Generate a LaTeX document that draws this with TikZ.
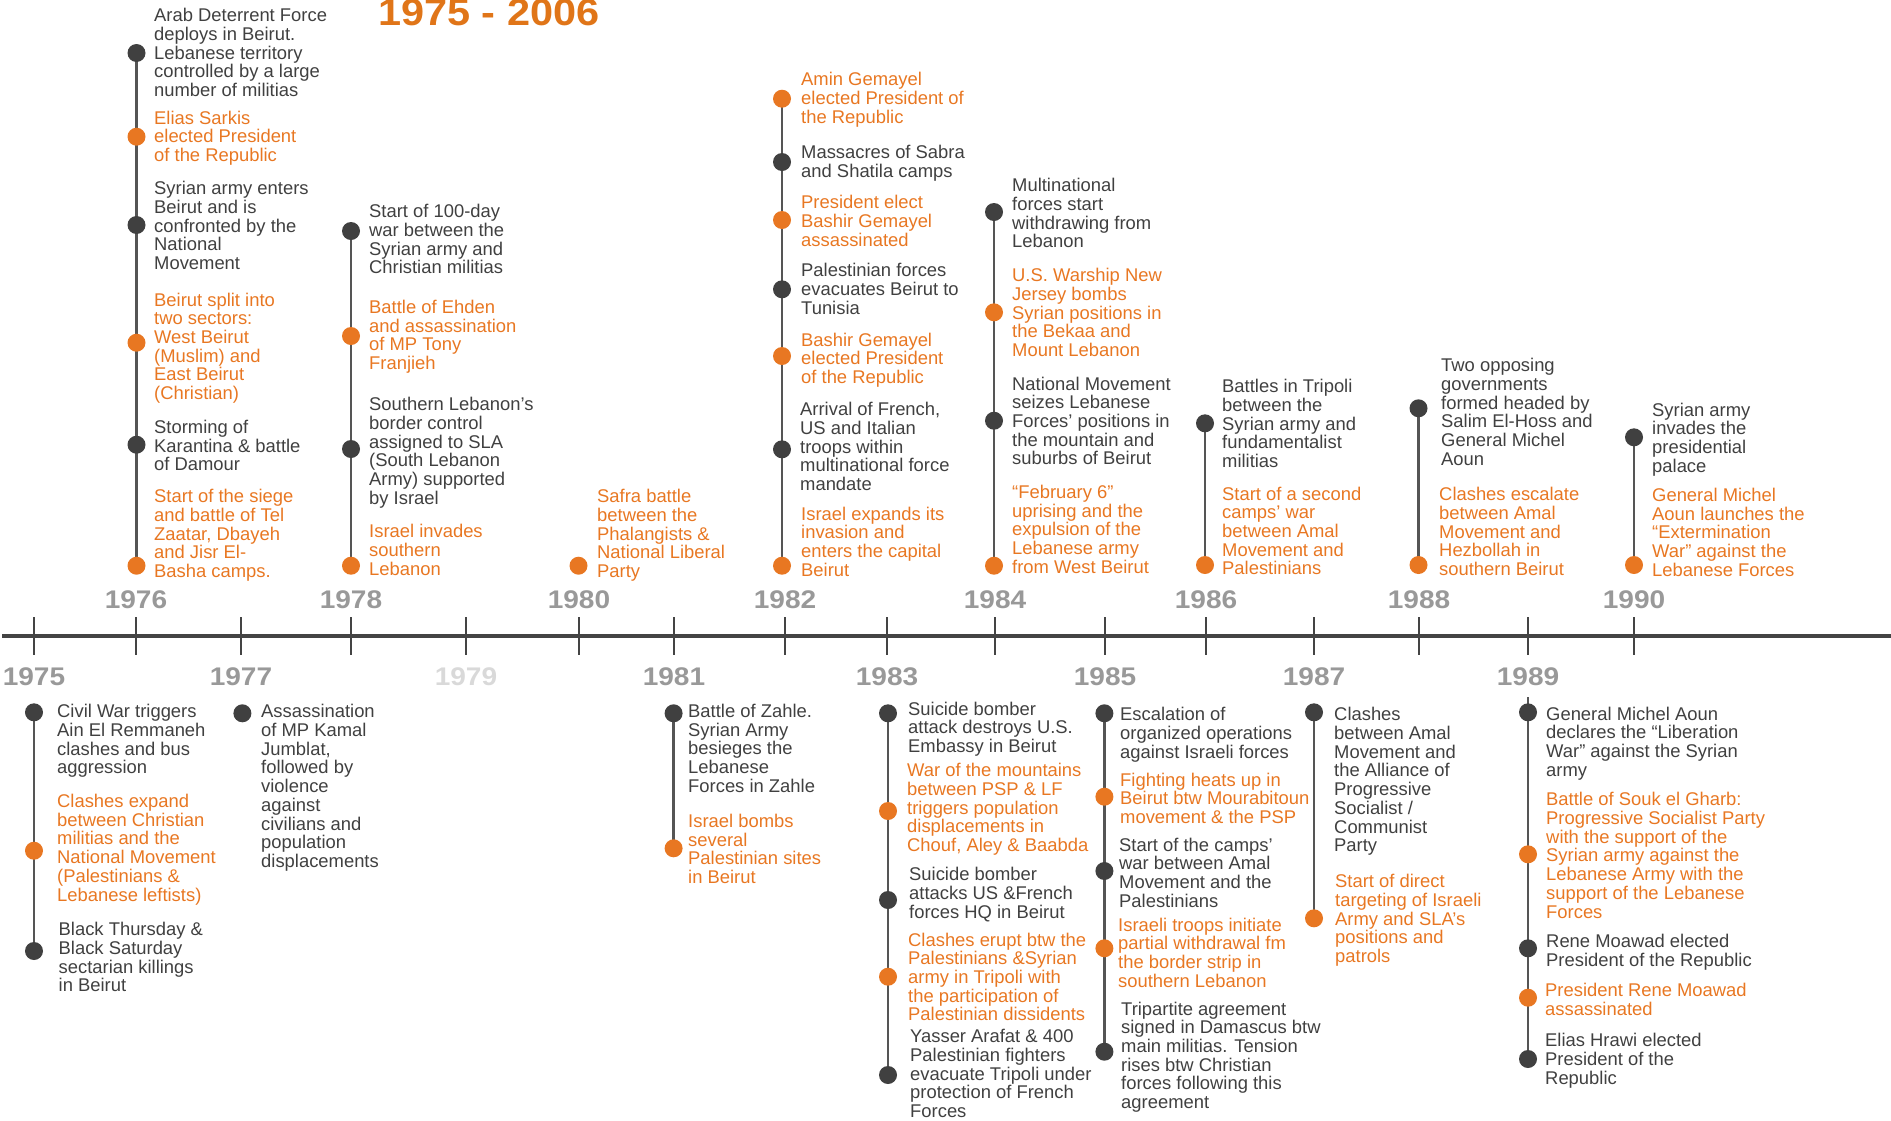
\documentclass[tikz,border=0pt]{standalone}
\usepackage{fontspec}
\setmainfont{Liberation Sans}
\newfontfamily\yearfont{Liberation Sans}[FakeStretch=1.1]
\usetikzlibrary{backgrounds}
\definecolor{ink}{RGB}{64,64,64}
\definecolor{tang}{RGB}{232,119,34}
\definecolor{tangdark}{RGB}{224,117,24}
\definecolor{yeargray}{RGB}{153,153,153}
\definecolor{yearpale}{RGB}{217,217,217}
\definecolor{stemgray}{RGB}{85,85,85}
\definecolor{axisgray}{RGB}{68,68,68}

\begin{document}
\begin{tikzpicture}[x=1bp,y=-1bp,
    dotd/.style={circle,fill=ink,minimum size=18bp,inner sep=0},
    doto/.style={circle,fill=tang,minimum size=18bp,inner sep=0},
    evd/.style={anchor=north west,inner sep=0,align=left,text=ink,
      font=\fontsize{18.4bp}{18.7bp}\selectfont},
    evo/.style={evd,text=tang},
    stem/.style={draw=stemgray,line width=2.5bp},
    yr/.style={font=\yearfont\bfseries\fontsize{25.5bp}{26bp}\selectfont,text=yeargray}]
        \useasboundingbox (0,0) rectangle (1891,1120);
        %TITLE
        \node[anchor=base west,inner sep=0,text=tangdark,
          font=\yearfont\bfseries\fontsize{37.7bp}{38bp}\selectfont] (title) at (378,25) {1975 - 2006};
        %AXIS
        \coordinate (axl) at (2,636);
        \coordinate (axr) at (1891,636);
        \draw[axisgray, line width=4bp] (axl) -- (axr);
        \foreach \xx in {34,136,241,351,466,579,674,785,887,995,1105,1206,1314,1419,1528,1634}
          \draw[axisgray, line width=1.5bp] (\xx,617) -- (\xx,655);
        %YEARS
        \foreach \yy/\xx in {1976/136,1978/351,1980/579,1982/785,1984/995,1986/1206,1988/1419,1990/1634}
          \node[yr] (y\yy) at (\xx,600) {\yy};
        \foreach \yy/\xx in {1975/34,1977/241,1981/674,1983/887,1985/1105,1987/1314,1989/1528}
          \node[yr] (y\yy) at (\xx,677) {\yy};
        \node[yr, text=yearpale] (y1979) at (466,677) {1979};

        %1976
        \node[dotd] (a1) at (136.5,53) {};
        \node[doto] (a2) at (136.5,136.7) {};
        \node[dotd] (a3) at (136.5,225) {};
        \node[doto] (a4) at (136.5,342.7) {};
        \node[dotd] (a5) at (136.5,444.7) {};
        \node[doto] (a6) at (136.5,565.7) {};
        \node[evd] (ta1) at (154,8.3) {Arab Deterrent Force\\deploys in Beirut.\\Lebanese territory\\controlled by a large\\number of militias};
        \node[evo] (ta2) at (154,110.6) {Elias Sarkis\\elected President\\of the Republic};
        \node[evd] (ta3) at (154,181.3) {Syrian army enters\\Beirut and is\\confronted by the\\National\\Movement};
        \node[evo] (ta4) at (154,292.6) {Beirut split into\\two sectors:\\West Beirut\\(Muslim) and\\East Beirut\\(Christian)};
        \node[evd] (ta5) at (154,420) {Storming of\\Karantina \& battle\\of Damour};
        \node[evo] (ta6) at (154,489.3) {Start of the siege\\and battle of Tel\\Zaatar, Dbayeh\\and Jisr El-\\Basha camps.};

        %1978
        \node[dotd] (b1) at (351,231) {};
        \node[doto] (b2) at (351,336) {};
        \node[dotd] (b3) at (351,449) {};
        \node[doto] (b4) at (351,565.7) {};
        \node[evd] (tb1) at (369,204.3) {Start of 100-day\\war between the\\Syrian army and\\Christian militias};
        \node[evo] (tb2) at (369,300) {Battle of Ehden\\and assassination\\of MP Tony\\Franjieh};
        \node[evd] (tb3) at (369,397.3) {Southern Lebanon’s\\border control\\assigned to SLA\\(South Lebanon\\Army) supported\\by Israel};
        \node[evo] (tb4) at (369,524.3) {Israel invades\\southern\\Lebanon};

        %1980
        \node[doto] (c1) at (578.5,565.7) {};
        \node[evo] (tc1) at (597,489.3) {Safra battle\\between the\\Phalangists \&\\National Liberal\\Party};

        %1982
        \node[doto] (d1) at (782,98.7) {};
        \node[dotd] (d2) at (782,162) {};
        \node[doto] (d3) at (782,220) {};
        \node[dotd] (d4) at (782,289.3) {};
        \node[doto] (d5) at (782,356) {};
        \node[dotd] (d6) at (782,449.3) {};
        \node[doto] (d7) at (782,565.7) {};
        \node[evo] (td1) at (801,72.3) {Amin Gemayel\\elected President of\\the Republic};
        \node[evd] (td2) at (801,145.3) {Massacres of Sabra\\and Shatila camps};
        \node[evo] (td3) at (801,195.3) {President elect\\Bashir Gemayel\\assassinated};
        \node[evd] (td4) at (801,263.3) {Palestinian forces\\evacuates Beirut to\\Tunisia};
        \node[evo] (td5) at (801,332.6) {Bashir Gemayel\\elected President\\of the Republic};
        \node[evd] (td6) at (800,402.3) {Arrival of French,\\US and Italian\\troops within\\multinational force\\mandate};
        \node[evo] (td7) at (801,506.6) {Israel expands its\\invasion and\\enters the capital\\Beirut};

        %1984
        \node[dotd] (e1) at (994,212) {};
        \node[doto] (e2) at (994,312.3) {};
        \node[dotd] (e3) at (994,420.7) {};
        \node[doto] (e4) at (994,565.7) {};
        \node[evd] (te1) at (1012,178.3) {Multinational\\forces start\\withdrawing from\\Lebanon};
        \node[evo] (te2) at (1012,268.3) {U.S. Warship New\\Jersey bombs\\Syrian positions in\\the Bekaa and\\Mount Lebanon};
        \node[evd] (te3) at (1012,376.6) {National Movement\\seizes Lebanese\\Forces’ positions in\\the mountain and\\suburbs of Beirut};
        \node[evo] (te4) at (1012,485) {“February 6”\\uprising and the\\expulsion of the\\Lebanese army\\from West Beirut};

        %1986
        \node[dotd] (f1) at (1205,423.3) {};
        \node[doto] (f2) at (1205,565) {};
        \node[evd] (tf1) at (1222,379.3) {Battles in Tripoli\\between the\\Syrian army and\\fundamentalist\\militias};
        \node[evo] (tf2) at (1222,486.6) {Start of a second\\camps’ war\\between Amal\\Movement and\\Palestinians};

        %1988
        \node[dotd] (g1) at (1418.5,408.3) {};
        \node[doto] (g2) at (1418.5,565) {};
        \node[evd] (tg1) at (1441,358.3) {Two opposing\\governments\\formed headed by\\Salim El-Hoss and\\General Michel\\Aoun};
        \node[evo] (tg2) at (1439,487.3) {Clashes escalate\\between Amal\\Movement and\\Hezbollah in\\southern Beirut};

        %1990
        \node[dotd] (h1) at (1634,437.3) {};
        \node[doto] (h2) at (1634,565) {};
        \node[evd] (th1) at (1652,402.6) {Syrian army\\invades the\\presidential\\palace};
        \node[evo] (th2) at (1652,488) {General Michel\\Aoun launches the\\“Extermination\\War” against the\\Lebanese Forces};

        %1975
        \node[dotd] (i1) at (34,712.3) {};
        \node[doto] (i2) at (34,850.7) {};
        \node[dotd] (i3) at (34,951) {};
        \node[evd] (ti1) at (57,704.3) {Civil War triggers\\Ain El Remmaneh\\clashes and bus\\aggression};
        \node[evo] (ti2) at (57,794) {Clashes expand\\between Christian\\militias and the\\National Movement\\(Palestinians \&\\Lebanese leftists)};
        \node[evd] (ti3) at (58.5,922.3) {Black Thursday \&\\Black Saturday\\sectarian killings\\in Beirut};

        %1977
        \node[dotd] (j1) at (242.4,713.3) {};
        \node[evd] (tj1) at (261,704.3) {Assassination\\of MP Kamal\\Jumblat,\\followed by\\violence\\against\\civilians and\\population\\displacements};

        %1981
        \node[dotd] (k1) at (673.6,713.3) {};
        \node[doto] (k2) at (673.6,848.3) {};
        \node[evd] (tk1) at (688,704) {Battle of Zahle.\\Syrian Army\\besieges the\\Lebanese\\Forces in Zahle};
        \node[evo] (tk2) at (688,814) {Israel bombs\\several\\Palestinian sites\\in Beirut};

        %1983
        \node[dotd] (l1) at (888,713.3) {};
        \node[doto] (l2) at (888,811) {};
        \node[dotd] (l3) at (888,900) {};
        \node[doto] (l4) at (888,976.7) {};
        \node[dotd] (l5) at (888,1075) {};
        \node[evd] (tl1) at (908,701.6) {Suicide bomber\\attack destroys U.S.\\Embassy in Beirut};
        \node[evo] (tl2) at (907,763.3) {War of the mountains\\between PSP \& LF\\triggers population\\displacements in\\Chouf, Aley \& Baabda};
        \node[evd] (tl3) at (909,867.3) {Suicide bomber\\attacks US \&French\\forces HQ in Beirut};
        \node[evo] (tl4) at (908,932.6) {Clashes erupt btw the\\Palestinians \&Syrian\\army in Tripoli with\\the participation of\\Palestinian dissidents};
        \node[evd] (tl5) at (910,1029.3) {Yasser Arafat \& 400\\Palestinian fighters\\evacuate Tripoli under\\protection of French\\Forces};

        %1985
        \node[dotd] (m1) at (1104.4,713.3) {};
        \node[doto] (m2) at (1104.4,796.7) {};
        \node[dotd] (m3) at (1104.4,871) {};
        \node[doto] (m4) at (1104.4,948.3) {};
        \node[dotd] (m5) at (1104.4,1051.7) {};
        \node[evd] (tm1) at (1120,707.3) {Escalation of\\organized operations\\against Israeli forces};
        \node[evo] (tm2) at (1120,772.6) {Fighting heats up in\\Beirut btw Mourabitoun\\movement \& the PSP};
        \node[evd] (tm3) at (1119,837.6) {Start of the camps’\\war between Amal\\Movement and the\\Palestinians};
        \node[evo] (tm4) at (1118,917.6) {Israeli troops initiate\\partial withdrawal fm\\the border strip in\\southern Lebanon};
        \node[evd] (tm5) at (1121,1001.6) {Tripartite agreement\\signed in Damascus btw\\main militias. Tension\\rises btw Christian\\forces following this\\agreement};

        %1987
        \node[dotd] (n1) at (1314,712.3) {};
        \node[doto] (n2) at (1314,918.3) {};
        \node[evd] (tn1) at (1334,707.3) {Clashes\\between Amal\\Movement and\\the Alliance of\\Progressive\\Socialist /\\Communist\\Party};
        \node[evo] (tn2) at (1335,874.3) {Start of direct\\targeting of Israeli\\Army and SLA’s\\positions and\\patrols};

        %1989
        \coordinate (o0) at (1528,697);
        \node[dotd] (o1) at (1528,712.3) {};
        \node[doto] (o2) at (1528,854.3) {};
        \node[dotd] (o3) at (1528,948.3) {};
        \node[doto] (o4) at (1528,997.7) {};
        \node[dotd] (o5) at (1528,1059) {};
        \node[evd] (to1) at (1546,706.6) {General Michel Aoun\\declares the “Liberation\\War” against the Syrian\\army};
        \node[evo] (to2) at (1546,792.3) {Battle of Souk el Gharb:\\Progressive Socialist Party\\with the support of the\\Syrian army against the\\Lebanese Army with the\\support of the Lebanese\\Forces};
        \node[evd] (to3) at (1546,934.3) {Rene Moawad elected\\President of the Republic};
        \node[evo] (to4) at (1545,983.3) {President Rene Moawad\\assassinated};
        \node[evd] (to5) at (1545,1033.3) {Elias Hrawi elected\\President of the\\Republic};

        %STEMS
        \begin{scope}[on background layer]
          \draw[stem] (a1.center) -- (a6.center);
          \draw[stem] (b1.center) -- (b4.center);
          \draw[stem] (d1.center) -- (d7.center);
          \draw[stem] (e1.center) -- (e4.center);
          \draw[stem] (f1.center) -- (f2.center);
          \draw[stem] (g1.center) -- (g2.center);
          \draw[stem] (h1.center) -- (h2.center);
          \draw[stem] (i1.center) -- (i3.center);
          \draw[stem] (k1.center) -- (k2.center);
          \draw[stem] (l1.center) -- (l5.center);
          \draw[stem] (m1.center) -- (m5.center);
          \draw[stem] (n1.center) -- (n2.center);
          \draw[stem] (o0) -- (o5.center);
        \end{scope}
\end{tikzpicture}
\end{document}
